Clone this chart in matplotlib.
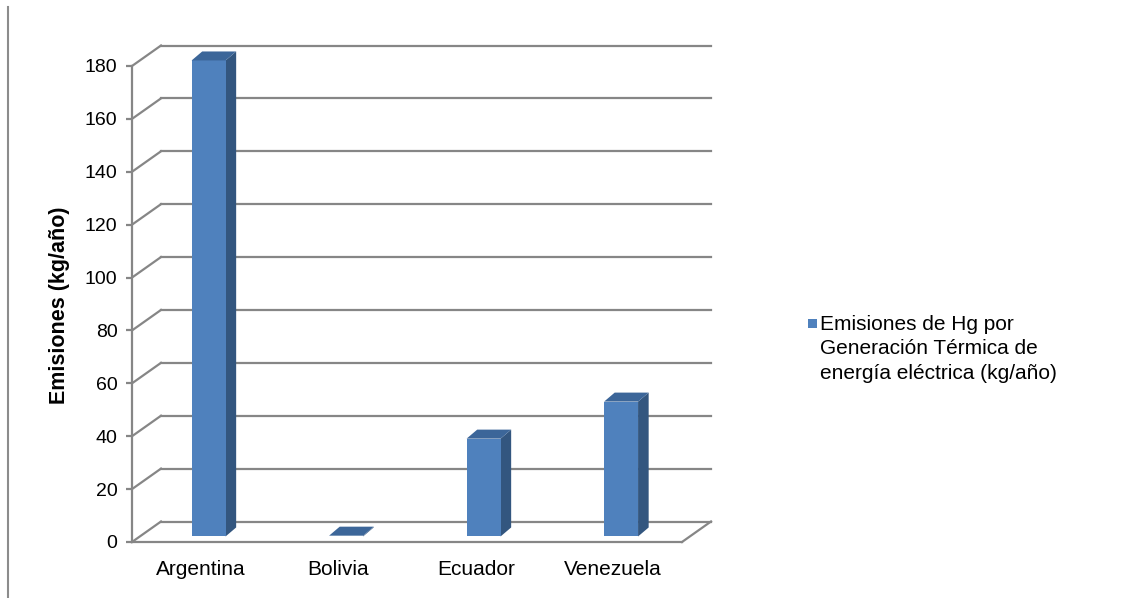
import numpy as np
import matplotlib
matplotlib.use("Agg")
import matplotlib.pyplot as plt
from matplotlib.patches import Polygon, Rectangle
from matplotlib.lines import Line2D

countries = ["Argentina", "Bolivia", "Ecuador", "Venezuela"]
emissions = [180, 0.3, 37, 51]
y_ticks = list(range(0, 181, 20))
series_label = "Emisiones de Hg por\nGeneración Térmica de\nenergía eléctrica (kg/año)"
y_title = "Emisiones (kg/año)"

plt.rcParams['font.family'] = ['Liberation Sans', 'DejaVu Sans']

grid_col = '#868686'
face_col = '#4f81bd'
side_col = '#33567f'
top_col = '#3c6699'

W, H = 1143, 598
fig = plt.figure(figsize=(W / 100, H / 100), dpi=100)
ax = fig.add_axes([132 / W, 56 / H, 550 / W, 476 / H])
ax.set_xlim(0, len(countries))
ax.set_ylim(0, 180)
ax.patch.set_visible(False)

# pixel offsets for the floor depth and the bar depth
FLOOR_PX = np.array([29.0, 20.5])
BAR_PX = np.array([10.6, 9.0])
BAR_FRONT = 0.27  # bar front plane, as a fraction of the floor depth
BAR_W = 0.247


def to_data(px):
    inv = ax.transData.inverted()
    o = ax.transData.transform((0, 0))
    return inv.transform(o + px)


floor_vec = to_data(FLOOR_PX)
bar_vec = to_data(BAR_PX)


def shift(pts, vec):
    return [(x + vec[0], y + vec[1]) for x, y in pts]


# back wall, left wall and floor
n = len(countries)
for v in y_ticks:
    xs, ys = zip(*shift([(0, v), (n, v)], floor_vec))
    ax.add_line(Line2D(xs, ys, color=grid_col, lw=1.6, clip_on=False, zorder=1))
    xs, ys = zip(*[(0, v), shift([(0, v)], floor_vec)[0]])
    ax.add_line(Line2D(xs, ys, color=grid_col, lw=1.6, clip_on=False, zorder=1))
xs, ys = zip(*[(n, 0), shift([(n, 0)], floor_vec)[0]])
ax.add_line(Line2D(xs, ys, color=grid_col, lw=1.6, clip_on=False, zorder=1))

# 3d bars
front_vec = floor_vec * BAR_FRONT
for i, v in enumerate(emissions):
    c = i + 0.5
    x0, x1 = c - BAR_W / 2, c + BAR_W / 2
    front = shift([(x0, 0), (x1, 0), (x1, v), (x0, v)], front_vec)
    back_side = shift(shift([(x1, v), (x1, 0)], front_vec), bar_vec)
    side = [front[1], back_side[1], back_side[0], front[2]]
    top_back = shift(shift([(x1, v), (x0, v)], front_vec), bar_vec)
    top = [front[3], front[2], top_back[0], top_back[1]]
    ax.add_patch(Polygon(side, closed=True, fc=side_col, ec='none', clip_on=False, zorder=3))
    ax.add_patch(Polygon(front, closed=True, fc=face_col, ec='none', clip_on=False, zorder=3))
    ax.add_patch(Polygon(top, closed=True, fc=top_col, ec='none', clip_on=False, zorder=3))

for s in ['top', 'right']:
    ax.spines[s].set_visible(False)
for s in ['left', 'bottom']:
    ax.spines[s].set_color(grid_col)
    ax.spines[s].set_linewidth(1.6)
    ax.spines[s].set_zorder(2)

ax.set_yticks(y_ticks)
ax.set_xticks(np.arange(n) + 0.5)
ax.set_xticklabels(countries)
ax.tick_params(axis='y', length=4.5, width=1.6, color=grid_col, pad=6, labelsize=14)
ax.tick_params(axis='x', length=0, pad=13, labelsize=15)

fig.text(60 / W, 1 - 305 / H, y_title, rotation=90, fontsize=15.5, fontweight='bold',
         ha='center', va='center')

# legend
fig.patches.append(Rectangle((808 / W, 1 - 328 / H), 9 / W, 9 / H, fc=face_col, ec='none',
                             transform=fig.transFigure, figure=fig))
fig.text(820 / W, 1 - 315 / H, series_label, fontsize=15, ha='left', va='top', linespacing=1.36)

# frame line on the left
fig.add_artist(Line2D([8 / W, 8 / W], [0, 1 - 7 / H], color='#8c8c8c', lw=1.5,
                      transform=fig.transFigure))

fig.savefig("out.png", dpi=100)
